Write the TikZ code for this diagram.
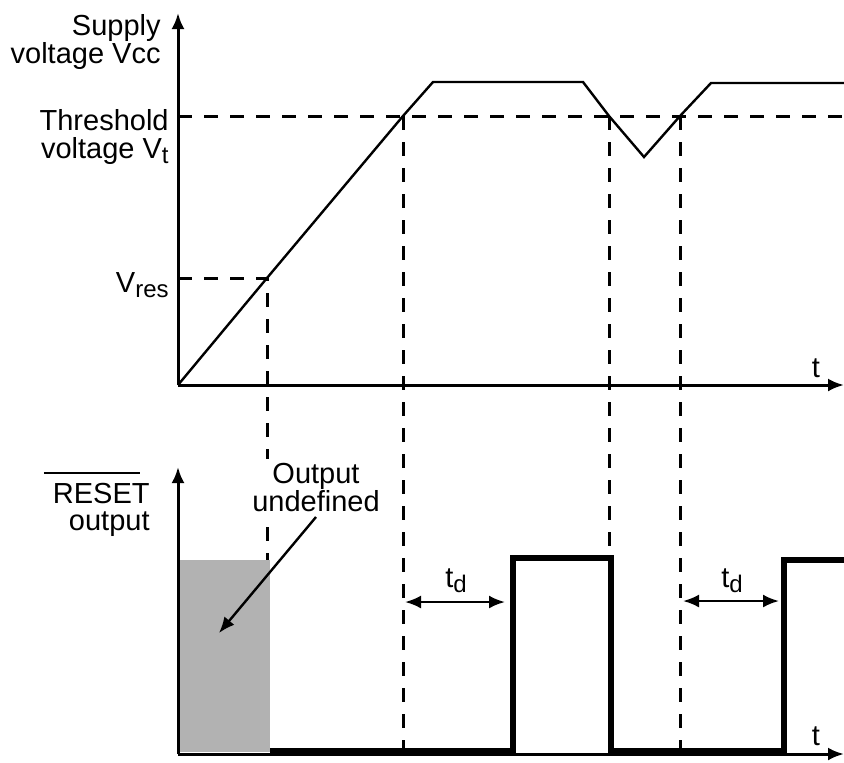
\documentclass[tikz,border=0pt]{standalone}
\usepackage{fontspec}
\setmainfont{Liberation Sans}
\usetikzlibrary{arrows.meta}
\newcommand{\lowsub}[1]{\raisebox{-2.6pt}{\fontsize{12}{12}\selectfont #1}}
\newcommand{\barred}[1]{\vbox{\offinterlineskip\moveleft4.5pt\vbox{\hrule width 48pt height 1pt}\kern 4.5pt\hbox{#1}}}

\begin{document}
\begin{tikzpicture}[x=0.5pt,y=-0.5pt,
	axis/.style={line width=1.5pt,-{Latex[length=8pt,width=6.5pt]}},
	guide/.style={line width=1.5pt,dash pattern=on 7pt off 6pt},
	supply/.style={line width=1.2pt,line join=miter},
	resetline/.style={line width=3pt,line join=miter},
	delay/.style={line width=1.2pt,{Latex[length=8pt,width=6.5pt]}-{Latex[length=8pt,width=6.5pt]}},
	lbl/.style={font=\fontsize{14.5}{14}\selectfont,inner sep=0pt}]
\useasboundingbox (0,0) rectangle (844,762);
%
	\fill[black!30] (178,560) rectangle (270,752);
%
	\coordinate (o1) at (178,385);
	\coordinate (y1) at (178,13);
	\coordinate (x1) at (844,385);
	\coordinate (o2) at (178,754);
	\coordinate (y2) at (178,467);
	\coordinate (x2) at (844,754);
	\coordinate (res) at (267,278);
	\coordinate (th1) at (403,116);
	\coordinate (th2) at (609,116);
	\coordinate (th3) at (680,116);
%
	\draw[guide] (178,116) -- (844,116);
	\draw[guide] (178,278) -- (res) -- (267,560);
	\draw[guide] (th1) -- (403,754);
	\draw[guide] (th2) -- (609,754);
	\draw[guide] (th3) -- (680,754);
%
	\draw[axis] (o1) -- (y1);
	\draw[axis] (o1) -- (x1);
	\draw[axis] (o2) -- (y2);
	\draw[axis] (o2) -- (x2);
%
	\draw[supply] (o1) -- (res) -- (th1) -- (433,82) -- (583,82) -- (th2)
		-- (644,157) -- (th3) -- (711,83) -- (844,83);
	\draw[resetline] (270,751) -- (513,751) -- (513,558) -- (611,558)
		-- (611,751) -- (784,751) -- (784,560) -- (844,560);
%
	\coordinate (d1a) at (405,602);
	\coordinate (d1b) at (505,602);
	\coordinate (d2a) at (683,601);
	\coordinate (d2b) at (779,601);
	\draw[delay] (d1a) -- (d1b);
	\draw[delay] (d2a) -- (d2b);
	\node[lbl,anchor=base] (td1) at (456,587) {t\lowsub{d}};
	\node[lbl,anchor=base] (td2) at (732,587) {t\lowsub{d}};
%
	\node[lbl,anchor=north east,align=right] (vcc) at (161,14) {Supply\\voltage Vcc};
	\node[lbl,anchor=north east,align=right] (vt) at (169,109) {Threshold\\voltage V\lowsub{t}};
	\node[lbl,anchor=base east] (vres) at (169,292) {V\lowsub{res}};
	\node[lbl,anchor=base] (t1) at (816,377) {t};
	\node[lbl,anchor=base] (t2) at (816,745) {t};
	\node[lbl,anchor=north east,align=right] (rst) at (150,472) {\barred{RESET}\\[-0.5pt]output};
	\node[lbl,anchor=north,align=center,fill=white,inner sep=2pt] (undef) at (316,459) {Output\\undefined};
	\coordinate (undefend) at (219,633);
	\draw[line width=1.2pt,-{Latex[length=8pt,width=6.5pt]}] (316,517) -- (undefend);
\end{tikzpicture}
\end{document}
